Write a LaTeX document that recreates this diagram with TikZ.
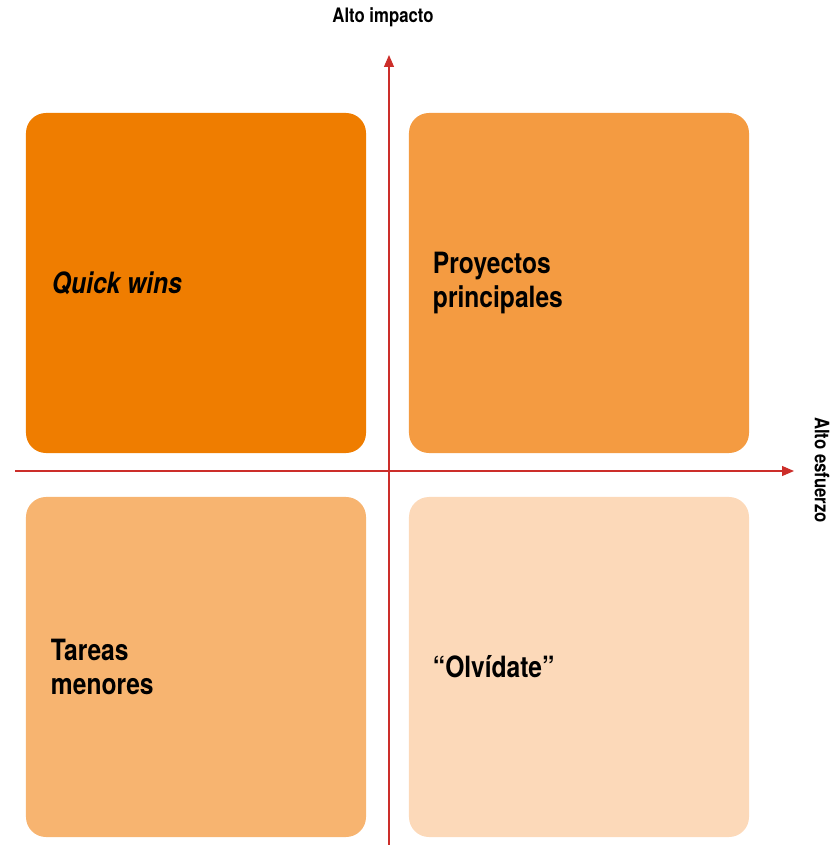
\documentclass[tikz,border=0pt]{standalone}
\usepackage{fontspec}
\setmainfont{TeX Gyre Heros}[FakeStretch=0.84]
\definecolor{qorange}{HTML}{EF7D00}
\definecolor{qmid}{HTML}{F49B41}
\definecolor{qlight}{HTML}{F7B470}
\definecolor{qpale}{HTML}{FCD9B9}
\definecolor{axred}{HTML}{CC2E2A}
\usetikzlibrary{arrows.meta,positioning,calc}

\begin{document}
\begin{tikzpicture}[x=0.03cm,y=-0.03cm,
  qbox/.style={rectangle, rounded corners=0.6cm, draw=none,
               minimum width=10.2cm, minimum height=10.2cm, inner sep=0pt},
  qtext/.style={anchor=west, inner sep=0pt, align=left,
                font=\fontsize{25}{29}\selectfont\bfseries, text=black},
  axlabel/.style={font=\fontsize{17}{20}\selectfont\bfseries, text=black, inner sep=0pt},
  axarr/.style={-{Triangle[length=0.36cm,width=0.3cm]}, line width=1pt, draw=axred}
]
\useasboundingbox (0,0) rectangle (830,845);

% Quadrants
\node[qbox, fill=qorange] (qw) at (196,283) {};
\node[qbox, fill=qmid]    (pp) at (579,283) {};
\node[qbox, fill=qlight]  (tm) at (196,667) {};
\node[qbox, fill=qpale]   (ol) at (579,667) {};

% Axis ends
\coordinate (vbot) at (389,845);
\coordinate (vtop) at (389,55);
\coordinate (hleft) at (15,471);
\coordinate (hright) at (794,471);

% Axes
\draw[axarr] (vbot) -- (vtop);
\draw[axarr] (hleft) -- (hright);

% Axis labels
\node[axlabel] (impacto) at (383,17) {Alto impacto};
\node[axlabel, rotate=-90] (esfuerzo) at (822,470) {Alto esfuerzo};

% Quadrant texts
\node[qtext, font=\fontsize{25}{29}\selectfont\bfseries\itshape] (qwt) at ($(qw.west)+(26,0)$) {Quick wins};
\node[qtext] (ppt) at ($(pp.west)+(24,0)$) {Proyectos\\principales};
\node[qtext] (tmt) at ($(tm.west)+(25,0)$) {Tareas\\menores};
\node[qtext] (olt) at ($(ol.west)+(24,0)$) {“Olvídate”};
\end{tikzpicture}
\end{document}
